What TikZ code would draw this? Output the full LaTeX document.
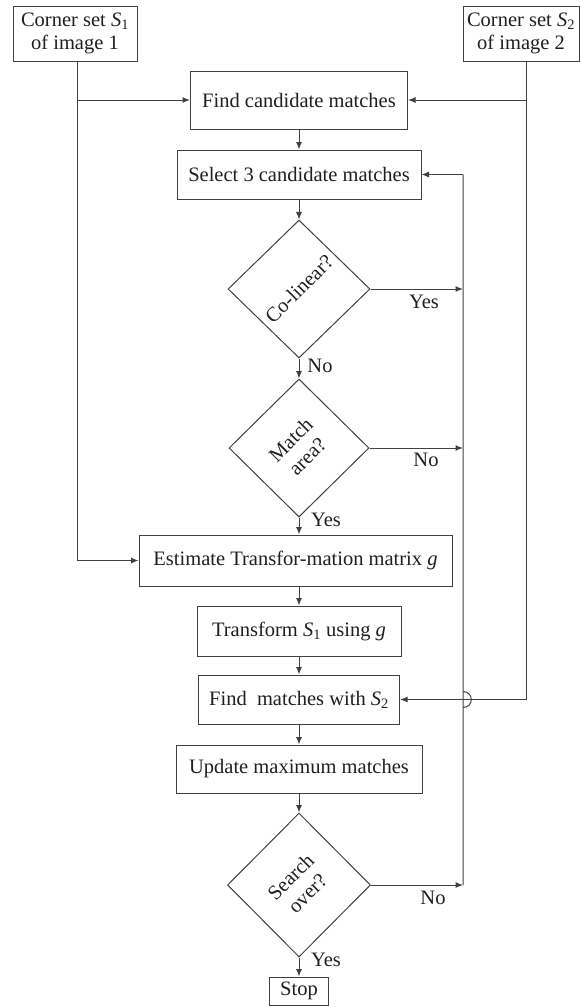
\documentclass[tikz,border=0pt]{standalone}
\usepackage{fontspec}
\setmainfont{Liberation Serif}
\usetikzlibrary{shapes.geometric,arrows.meta}
\newcommand{\Sone}{\textit{S}\textsubscript{1}}
\newcommand{\Stwo}{\textit{S}\textsubscript{2}}
\begin{document}
\begin{tikzpicture}[x=1pt,y=-1pt,
  every node/.style={font=\fontsize{20.5}{23.5}\selectfont, text=black!88},
  box/.style={draw=black!75, line width=1pt, inner sep=0pt, align=center},
  dia/.style={draw=black!75, line width=1pt, diamond, inner sep=0pt},
  dtext/.style={rotate=45, align=center, inner sep=0pt},
  lbl/.style={inner sep=0pt},
  ln/.style={draw=black!75, line width=1pt},
  arr/.style={ln, -{Latex[length=7.5pt,width=6pt]}}]
\useasboundingbox (0,0) rectangle (581,1007);
% nodes
\node[box, minimum width=124, minimum height=55] (c1) at (75,33.5) {Corner set \Sone\\of image 1};
\node[box, minimum width=116, minimum height=55] (c2) at (521,33.5) {Corner set \Stwo\\of image 2};
\node[box, minimum width=217, minimum height=58] (find) at (299,100) {Find candidate matches};
\node[box, minimum width=244, minimum height=49] (select) at (299,174.5) {Select 3 candidate matches};
\node[dia, minimum width=142, minimum height=138] (col) at (299,289) {};
\node[dtext] (tcol) at (col) {Co-linear?};
\node[dia, minimum width=140, minimum height=138] (match) at (299,448) {};
\node[dtext] (tmatch) at (match) {Match\\area?};
\node[box, minimum width=313, minimum height=51] (est) at (295.5,560.5) {Estimate Transfor-mation matrix \textit{g}};
\node[box, minimum width=204, minimum height=50] (trans) at (299,631) {Transform \Sone{} using \textit{g}};
\node[box, minimum width=201, minimum height=49] (fm) at (299,699.5) {Find~ matches with \Stwo};
\node[box, minimum width=246, minimum height=48] (upd) at (299,769) {Update maximum matches};
\node[dia, minimum width=143, minimum height=144] (search) at (299,885) {};
\node[dtext] (tsearch) at (search) {Search\\over?};
\node[box, minimum width=59, minimum height=28] (stop) at (299,991) {Stop};
% labels
\node[lbl] (ly1) at (424,302) {Yes};
\node[lbl] (ln1) at (320,366) {No};
\node[lbl] (ln2) at (426,460) {No};
\node[lbl] (ly2) at (326,520) {Yes};
\node[lbl] (ln3) at (433,898) {No};
\node[lbl] (ly3) at (326,960) {Yes};
% coordinates
\coordinate (r) at ([xshift=5]c2.south);
\coordinate (l) at ([xshift=2]c1.south);
\coordinate (fbx) at (463,0);
% main flow
\draw[arr] (find) -- (select);
\draw[arr] (select) -- (col);
\draw[arr] (col) -- (match);
\draw[arr] (match.south) -- (match.south |- est.north);
\draw[arr] (est.south -| trans) -- (trans);
\draw[arr] (trans) -- (fm);
\draw[arr] (fm) -- (upd);
\draw[arr] (upd) -- (search);
\draw[arr] (search) -- (stop);
% left input
\draw[ln] (l) -- (l |- est.west);
\draw[arr] (l |- find.west) -- (find.west);
\draw[arr] (l |- est.west) -- (est.west);
% right input
\draw[ln] (r) -- (r |- fm.east);
\draw[arr] (r |- find.east) -- (find.east);
\draw[arr] (r |- fm.east) -- (fm.east);
% feedback loop
\draw[arr] (col.east) -- (col.east -| fbx);
\draw[arr] (match.east) -- (match.east -| fbx);
\draw[arr] (search.east) -- (search.east -| fbx);
\draw[ln] (search.east -| fbx) -- ([yshift=8]fm.east -| fbx)
  .. controls ([xshift=11,yshift=8]fm.east -| fbx) and ([xshift=11,yshift=-8]fm.east -| fbx) .. ([yshift=-8]fm.east -| fbx)
  -- (select.east -| fbx);
\draw[arr] (select.east -| fbx) -- (select.east);
\end{tikzpicture}
\end{document}
